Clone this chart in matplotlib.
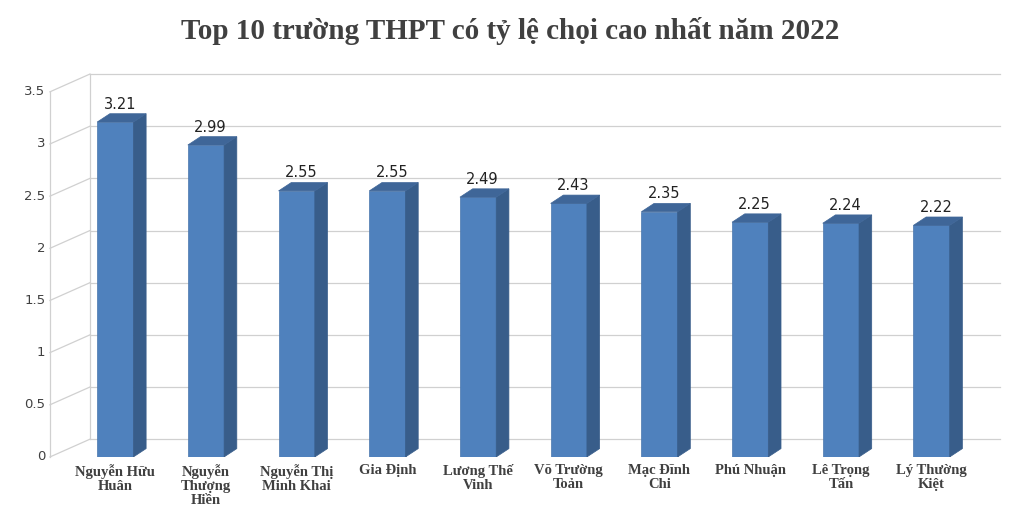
import matplotlib
matplotlib.use("Agg")
import matplotlib.pyplot as plt
from matplotlib.patches import Polygon

schools = ["Nguyễn Hữu\nHuân", "Nguyễn\nThượng\nHiền", "Nguyễn Thị\nMinh Khai", "Gia Định",
           "Lương Thế\nVinh", "Võ Trường\nToản", "Mạc Đĩnh\nChi", "Phú Nhuận",
           "Lê Trọng\nTấn", "Lý Thường\nKiệt"]
ratios = [3.21, 2.99, 2.55, 2.55, 2.49, 2.43, 2.35, 2.25, 2.24, 2.22]
yticks = [0, 0.5, 1, 1.5, 2, 2.5, 3, 3.5]
ytick_labels = ["0", "0.5", "1", "1.5", "2", "2.5", "3", "3.5"]

fig = plt.figure(figsize=(10.2, 5.14), dpi=100)
ax = fig.add_axes([0.049, 0.111, 0.931, 0.751])
xmin, xmax = -0.72, 9.75
ax.set_xlim(xmin, xmax)
ax.set_ylim(0, 3.7)
ax.axis("off")

wdx, wdy = 0.44, 0.17
for t, lab in zip(yticks, ytick_labels):
    ax.plot([xmin, xmin + wdx], [t, t + wdy], color="#d0d0d0", lw=0.9, clip_on=False)
    ax.plot([xmin + wdx, xmax], [t + wdy, t + wdy], color="#d0d0d0", lw=0.9, clip_on=False)
    ax.text(xmin - 0.05, t, lab, ha="right", va="center", fontsize=9.5, color="#404040")
ax.plot([xmin, xmin], [0, 3.5], color="#d0d0d0", lw=0.9, clip_on=False)
ax.plot([xmin + wdx, xmin + wdx], [wdy, 3.5 + wdy], color="#d0d0d0", lw=0.9, clip_on=False)

w, dx, dy = 0.4, 0.14, 0.08
for i, v in enumerate(ratios):
    l, r = i - w / 2, i + w / 2
    ax.add_patch(Polygon([[l, 0], [r, 0], [r, v], [l, v]], closed=True,
                         facecolor="#4F81BD", edgecolor="#4a76ad", lw=0.5, zorder=3))
    ax.add_patch(Polygon([[r, 0], [r + dx, dy], [r + dx, v + dy], [r, v]], closed=True,
                         facecolor="#385D8A", edgecolor="#385D8A", lw=0.5, zorder=3))
    ax.add_patch(Polygon([[l, v], [r, v], [r + dx, v + dy], [l + dx, v + dy]], closed=True,
                         facecolor="#3F6698", edgecolor="#3F6698", lw=0.5, zorder=3))
    ax.text(i + 0.05, v + dy + 0.02, f"{v:.2f}", ha="center", va="bottom", fontsize=10.5,
            color="#222222", zorder=4)
    ax.text(i, -0.07, schools[i], ha="center", va="top", fontsize=10.5, fontweight="bold",
            family="Liberation Serif", color="#404040", linespacing=1.1)

fig.text(0.5, 0.94, "Top 10 trường THPT có tỷ lệ chọi cao nhất năm 2022", ha="center",
         va="center", fontsize=21, fontweight="bold", family="Liberation Serif", color="#404040")
fig.savefig("out.png", dpi=100)
